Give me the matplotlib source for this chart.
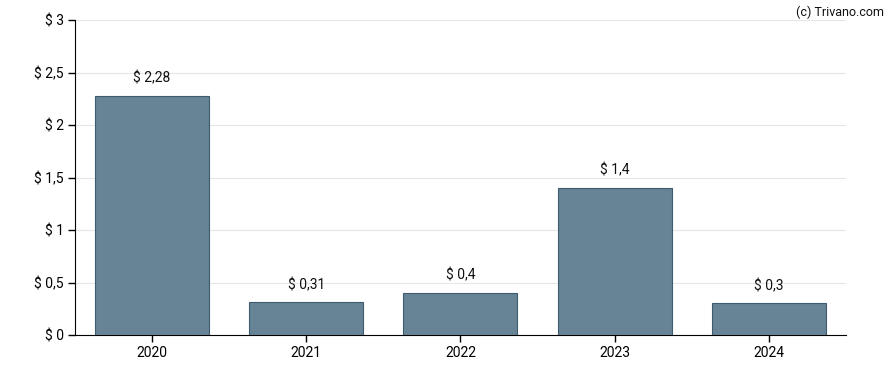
import matplotlib
matplotlib.use('Agg')
from matplotlib import pyplot as plt

years = ['2020', '2021', '2022', '2023', '2024']
values = [2.28, 0.31, 0.4, 1.4, 0.3]
labels = ['$ 2,28', '$ 0,31', '$ 0,4', '$ 1,4', '$ 0,3']
yticks = [0, 0.5, 1, 1.5, 2, 2.5, 3]
ytick_labels = ['$ 0', '$ 0,5', '$ 1', '$ 1,5', '$ 2', '$ 2,5', '$ 3']

plt.rcParams['font.family'] = ['Roboto', 'DejaVu Sans']

fig = plt.figure(figsize=(8.88, 3.7), dpi=100)
ax = fig.add_axes([0.0845, 0.0946, 0.868, 0.8513])

x = range(len(years))
ax.bar(x, values, width=0.74, color='#678496', edgecolor='#3f5b6e', linewidth=0.8, zorder=3)
for i, v in enumerate(values):
    ax.text(i, v + 0.1, labels[i], ha='center', va='bottom', fontsize=10, color='#111111')

ax.set_xlim(-0.5, len(years) - 0.5)
ax.set_ylim(0, 3)
ax.set_xticks(list(x))
ax.set_xticklabels(years, fontsize=10)
ax.set_yticks(yticks)
ax.set_yticklabels(ytick_labels, fontsize=10)
ax.grid(axis='y', color='#e6e6e6', linewidth=0.8, zorder=0)
ax.spines['top'].set_visible(False)
ax.spines['right'].set_visible(False)
ax.tick_params(axis='both', length=5, width=1, pad=3)

fig.text(0.995, 0.985, '(c) Trivano.com', ha='right', va='top', fontsize=9, color='#111111')

plt.savefig('out.png', dpi=100)
